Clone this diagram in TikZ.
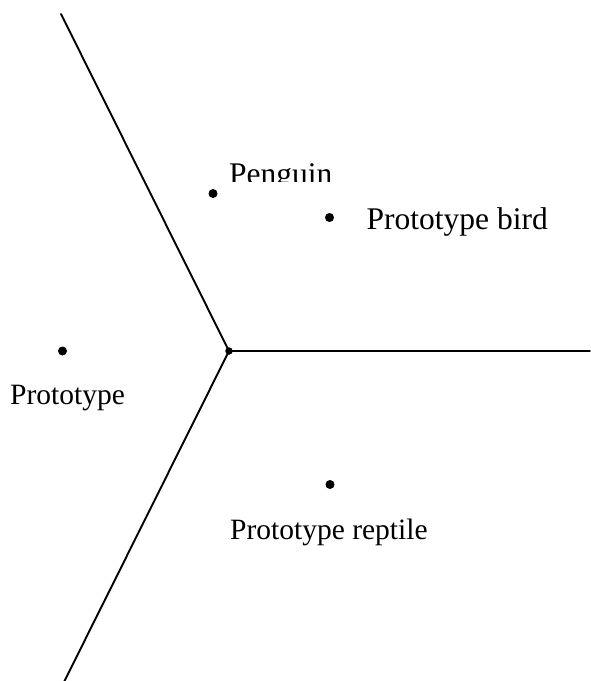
\documentclass[tikz,border=0pt]{standalone}
\usepackage{fontspec}
\setmainfont{Liberation Serif}
\begin{document}
\begin{tikzpicture}[x=1pt,y=-1pt,
  edge/.style={line width=1.9pt,line cap=round},
  dot/.style={circle,fill=black,inner sep=0pt,minimum size=9pt},
  junction/.style={circle,fill=black,inner sep=0pt,minimum size=7.5pt},
  biglabel/.style={anchor=base west,inner sep=0pt,font=\fontsize{31.5}{36}\selectfont},
  label/.style={anchor=base west,inner sep=0pt,font=\fontsize{29.5}{34}\selectfont}]
\useasboundingbox (0,0) rectangle (590,681);

% boundaries between the three regions
\coordinate (c) at (229,351);
\coordinate (top) at (61,14);
\coordinate (right) at (590,351);
\coordinate (bottom) at (63,684);
\draw[edge] (top) -- (c);
\draw[edge] (c) -- (right);
\draw[edge] (c) -- (bottom);
\node[junction] (cdot) at (c) {};

% category members
\node[dot] (penguin) at (213,193.5) {};
\node[dot] (bird) at (329.5,217.5) {};
\node[dot] (proto) at (62.5,351) {};
\node[dot] (reptile) at (330,484.5) {};

% labels
\begin{scope}
  \clip (0,0) rectangle (590,181.5);
  \node[biglabel] (penguinlbl) at (229,184) {Penguin};
\end{scope}
\node[biglabel] (birdlbl) at (366.5,229.5) {Prototype bird};
\node[label] (protolbl) at (10,404) {Prototype};
\node[label] (reptilelbl) at (230,539) {Prototype reptile};
\end{tikzpicture}
\end{document}
